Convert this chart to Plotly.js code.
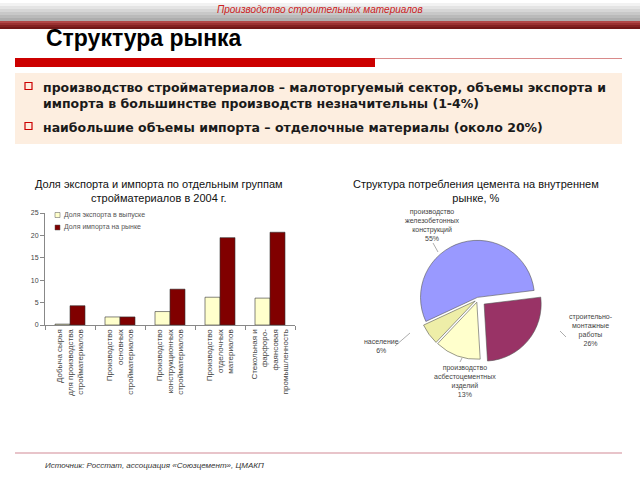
<!DOCTYPE html>
<html><head><meta charset="utf-8">
<script src="https://cdn.plot.ly/plotly-3.0.1.min.js"></script>
<style>html,body{margin:0;padding:0;background:#fff}#chart{width:640px;height:480px}</style>
</head><body><div id="chart"></div>
<script>
// ---- data ----
const barCategories = [
  "Добыча сырья<br>для производства<br>стройматериалов",
  "Производство<br>основных<br>стройматериалов",
  "Производство<br>конструкционных<br>стройматериалов",
  "Производство<br>отделочных<br>материалов",
  "Стекольная и<br>фарфоро-<br>фаянсовая<br>промышленность"
];
const exportShare = [0.2, 1.8, 3.0, 6.2, 6.0];
const importShare = [4.3, 1.8, 8.0, 19.5, 20.7];
const barSeriesNames = ["Доля экспорта в выпуске", "Доля импорта на рынке"];
const barColors = ["#ffffcc", "#800000"];
const yTickValues = [0, 5, 10, 15, 20, 25];
const pieLabels = [
  "производство<br>железобетонных<br>конструкций",
  "строительно-<br>монтажные<br>работы",
  "производство<br>асбестоцементных<br>изделий",
  "население"
];
const pieValues = [55, 26, 13, 6];
const headerText = "Производство строительных материалов";
const slideTitle = "Структура рынка";
const bullets = [
  "производство стройматериалов – малоторгуемый сектор, объемы экспорта и<br>импорта в большинстве производств незначительны (1-4%)",
  "наибольшие объемы импорта – отделочные материалы (около 20%)"
];
const barTitle = "Доля экспорта и импорта по отдельным группам<br>стройматериалов в 2004 г.";
const pieTitle = "Структура потребления цемента на внутреннем<br>рынке, %";
const sourceText = "Источник: Росстат, ассоциация «Союзцемент», ЦМАКП";

// ---- helpers ----
const W = 640, H = 480;
const px = x => x / W;
const py = y => 1 - y / H;
const FONT = "Liberation Sans, Arial";

const shapes = [];
const grays = ["#ffffff","#f2f2f2","#e4e4e4","#d6d6d6","#c8c8c8","#bababa","#adadad"];
grays.forEach((c, i) => shapes.push({type:"rect", xref:"paper", yref:"paper", x0:0, x1:1, y0:py(i*3+3), y1:py(i*3), fillcolor:c, line:{width:0}, layer:"below"}));
const reds = ["#b04848","#9a3232","#842222","#701818"];
reds.forEach((c, i) => shapes.push({type:"rect", xref:"paper", yref:"paper", x0:0, x1:1, y0:py(21+i*2+2), y1:py(21+i*2), fillcolor:c, line:{width:0}, layer:"below"}));
shapes.push({type:"line", xref:"paper", yref:"paper", x0:px(15), x1:px(622), y0:py(58.5), y1:py(58.5), line:{color:"#d98a8a", width:1}});
shapes.push({type:"rect", xref:"paper", yref:"paper", x0:px(15), x1:px(375), y0:py(67), y1:py(58), fillcolor:"#cc0000", line:{width:0}});
shapes.push({type:"rect", xref:"paper", yref:"paper", x0:px(15), x1:px(622), y0:py(144), y1:py(73), fillcolor:"#fdeee0", line:{width:0}, layer:"below"});
[86, 126].forEach(y => shapes.push({type:"rect", xref:"paper", yref:"paper", x0:px(25), x1:px(32), y0:py(y+3.5), y1:py(y-3.5), fillcolor:"rgba(0,0,0,0)", line:{color:"#cc0000", width:1.2}}));
shapes.push({type:"line", xref:"paper", yref:"paper", x0:px(15), x1:px(622), y0:py(453), y1:py(453), line:{color:"#e0b0b8", width:1.5}});

const annotations = [];
function note(x, y, text, font, extra) {
  annotations.push(Object.assign({xref:"paper", yref:"paper", x:px(x), y:py(y), xanchor:"center", yanchor:"middle", text:text, showarrow:false, font:font}, extra || {}));
}
note(320, 9.5, "<i>"+headerText+"</i>", {family:FONT, size:10, color:"#cc2222"});
note(44, 38, "<b>"+slideTitle+"</b>", {family:FONT, size:23, color:"#000"}, {xanchor:"left"});
note(41, 78, "<b>"+bullets[0]+"</b>", {family:"DejaVu Sans", size:12.5, color:"#1a1a1a"}, {xanchor:"left", yanchor:"top", align:"left"});
note(41, 118, "<b>"+bullets[1]+"</b>", {family:"DejaVu Sans", size:12.5, color:"#1a1a1a"}, {xanchor:"left", yanchor:"top", align:"left"});
note(159, 191, barTitle, {family:FONT, size:11, color:"#111"});
note(476, 191, pieTitle, {family:FONT, size:11, color:"#111"});
note(43, 465, "<i>"+sourceText+"</i>", {family:FONT, size:8, color:"#333"}, {xanchor:"left"});

// manual compact legend for bar series
barSeriesNames.forEach((n, i) => {
  const y = 215 + i * 12.5;
  shapes.push({type:"rect", xref:"paper", yref:"paper", x0:px(55), x1:px(60), y0:py(y+2.5), y1:py(y-2.5), fillcolor:barColors[i], line:{color:"#555", width:0.5}});
  note(62, y, n, {family:FONT, size:7, color:"#555"}, {xanchor:"left"});
});

// pie labels (layout positions only)
const pieLabelPos = [[432, 225], [591, 330], [465, 381], [381, 346]];
pieLabels.forEach((lab, i) => {
  note(pieLabelPos[i][0], pieLabelPos[i][1], lab+"<br>"+pieValues[i]+"%", {family:FONT, size:7, color:"#444"});
});
[[433,243,438,252],[560,331,566,337],[395,346,410,333],[460,362,462,358]].forEach(l =>
  shapes.push({type:"line", xref:"paper", yref:"paper", x0:px(l[0]), y0:py(l[1]), x1:px(l[2]), y1:py(l[3]), line:{color:"#888", width:0.7}}));

const traces = [
  {type:"bar", name:barSeriesNames[0], x:barCategories, y:exportShare, xaxis:"x", yaxis:"y",
   marker:{color:barColors[0], line:{color:"#333", width:0.6}}},
  {type:"bar", name:barSeriesNames[1], x:barCategories, y:importShare, xaxis:"x", yaxis:"y",
   marker:{color:barColors[1], line:{color:"#333", width:0.6}}},
  {type:"pie", labels:pieLabels, values:pieValues, sort:false, direction:"clockwise", rotation:245,
   domain:{x:[px(413), px(543)], y:[py(364), py(234)]},
   pull:[0.03, 0.14, 0.06, 0.06], textinfo:"none", showlegend:false,
   marker:{colors:["#9999ff","#993366","#ffffcc","#eeeea8"], line:{color:"#555", width:0.6}}}
];

const layout = {
  width:W, height:H, margin:{l:0, r:0, t:0, b:0},
  paper_bgcolor:"#fff", plot_bgcolor:"rgba(0,0,0,0)",
  barmode:"group", bargap:0.4, bargroupgap:0, showlegend:false,
  xaxis:{domain:[px(45), px(295)], anchor:"y", showline:true, linecolor:"#888", linewidth:1,
    ticks:"outside", tickson:"boundaries", ticklen:4, tickcolor:"#888", tickangle:-90,
    tickfont:{family:FONT, size:8, color:"#444"}, showgrid:false},
  yaxis:{domain:[py(325), py(213)], anchor:"x", range:[0,25], tickvals:yTickValues, showline:true, linecolor:"#888",
    ticks:"outside", ticklen:4, tickcolor:"#888", showgrid:false, zeroline:false,
    tickfont:{family:FONT, size:7, color:"#444"}},
  shapes:shapes, annotations:annotations
};
Plotly.newPlot("chart", traces, layout, {displayModeBar:false, staticPlot:true});
</script></body></html>
